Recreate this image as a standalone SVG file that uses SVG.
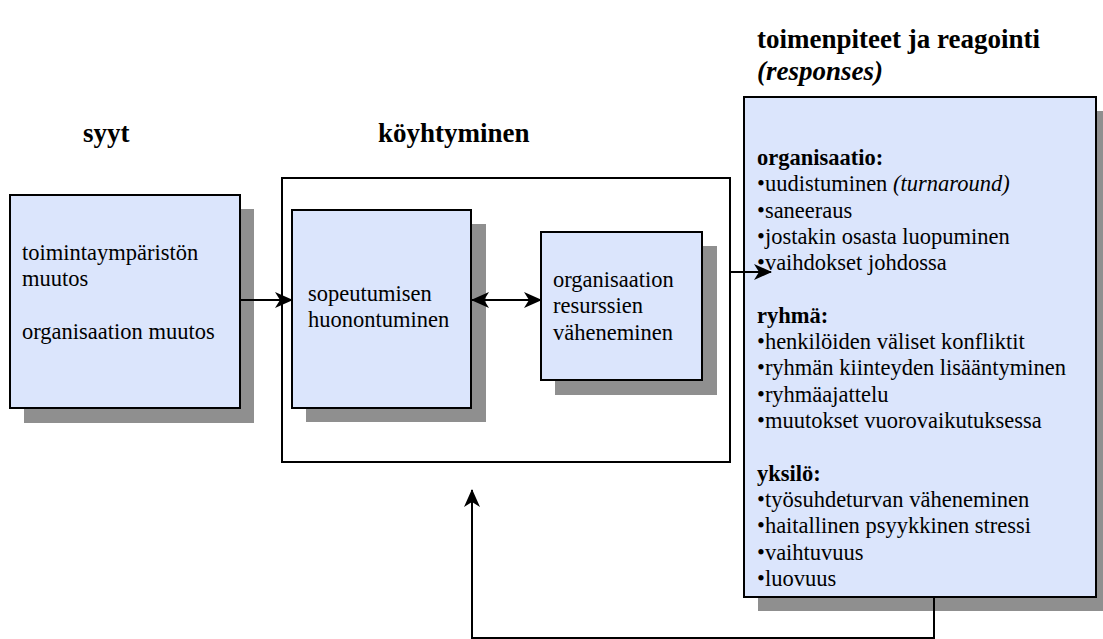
<svg xmlns="http://www.w3.org/2000/svg" width="1103" height="639" viewBox="0 0 1103 639">
<style>
.box{fill:#dbe5fc;stroke:#000;stroke-width:2}
.shadow{fill:#8f8f8f}
.frame{fill:none;stroke:#000;stroke-width:2}
text{font-family:'Liberation Serif','Times New Roman',Times,serif;fill:#000}
.t{font-size:22.5px}
.h{font-size:27px;font-weight:bold}
.i{font-style:italic}
.c{fill:none;stroke:#000;stroke-width:2}
</style>
<defs>
<marker id="ah" viewBox="0 0 18 16" markerWidth="18" markerHeight="16" refX="17" refY="8" orient="auto-start-reverse" markerUnits="userSpaceOnUse">
<path d="M0,0 L18,8 L0,16 L5,8 Z" fill="#000"/>
</marker>
</defs>
<rect width="1103" height="639" fill="#fff"/>

<g id="headings">
<text class="h" x="83" y="142">syyt</text>
<text class="h" x="378" y="142">köyhtyminen</text>
<text class="h" x="757" y="48">toimenpiteet ja reagointi</text>
<text class="h" x="757" y="80" font-style="italic">(responses)</text>
</g>

<g id="node-syyt">
<rect class="shadow" x="24" y="209" width="230" height="214"/>
<rect class="box" x="10" y="195" width="230" height="213"/>
<text class="t" x="22" y="260">toimintaympäristön</text>
<text class="t" x="22" y="286">muutos</text>
<text class="t" x="22" y="339">organisaation muutos</text>
</g>

<g id="node-koyhtyminen">
<rect class="frame" x="282" y="178" width="448" height="284"/>
</g>

<g id="node-sopeutumisen">
<rect class="shadow" x="306" y="224" width="180" height="198"/>
<rect class="box" x="292" y="210" width="179" height="198"/>
<text class="t" x="308" y="301">sopeutumisen</text>
<text class="t" x="308" y="327">huonontuminen</text>
</g>

<g id="node-resurssien">
<rect class="shadow" x="555" y="246" width="162" height="149"/>
<rect class="box" x="541" y="232" width="161" height="148"/>
<text class="t" x="553" y="287">organisaation</text>
<text class="t" x="553" y="313">resurssien</text>
<text class="t" x="553" y="340">väheneminen</text>
</g>

<g id="node-responses">
<rect class="shadow" x="758" y="111" width="352" height="500"/>
<rect class="box" x="744" y="97" width="352" height="500"/>
<text class="t" x="757" y="165" font-weight="bold">organisaatio:</text>
<text class="t" x="757" y="191">•uudistuminen <tspan class="i">(turnaround)</tspan></text>
<text class="t" x="757" y="218">•saneeraus</text>
<text class="t" x="757" y="244">•jostakin osasta luopuminen</text>
<text class="t" x="757" y="270">•vaihdokset johdossa</text>
<text class="t" x="757" y="323" font-weight="bold">ryhmä:</text>
<text class="t" x="757" y="349">•henkilöiden väliset konfliktit</text>
<text class="t" x="757" y="375">•ryhmän kiinteyden lisääntyminen</text>
<text class="t" x="757" y="402">•ryhmäajattelu</text>
<text class="t" x="757" y="428">•muutokset vuorovaikutuksessa</text>
<text class="t" x="757" y="481" font-weight="bold">yksilö:</text>
<text class="t" x="757" y="507">•työsuhdeturvan väheneminen</text>
<text class="t" x="757" y="533">•haitallinen psyykkinen stressi</text>
<text class="t" x="757" y="560">•vaihtuvuus</text>
<text class="t" x="757" y="586">•luovuus</text>
</g>

<g id="connectors">
<line class="c" x1="240" y1="300" x2="292" y2="300" marker-end="url(#ah)"/>
<line class="c" x1="472" y1="300" x2="541" y2="300" marker-start="url(#ah)" marker-end="url(#ah)"/>
<line class="c" x1="730" y1="272" x2="771" y2="272" marker-end="url(#ah)"/>
<polyline class="c" points="934,598 934,638 472,638 472,490" marker-end="url(#ah)"/>
</g>
</svg>
